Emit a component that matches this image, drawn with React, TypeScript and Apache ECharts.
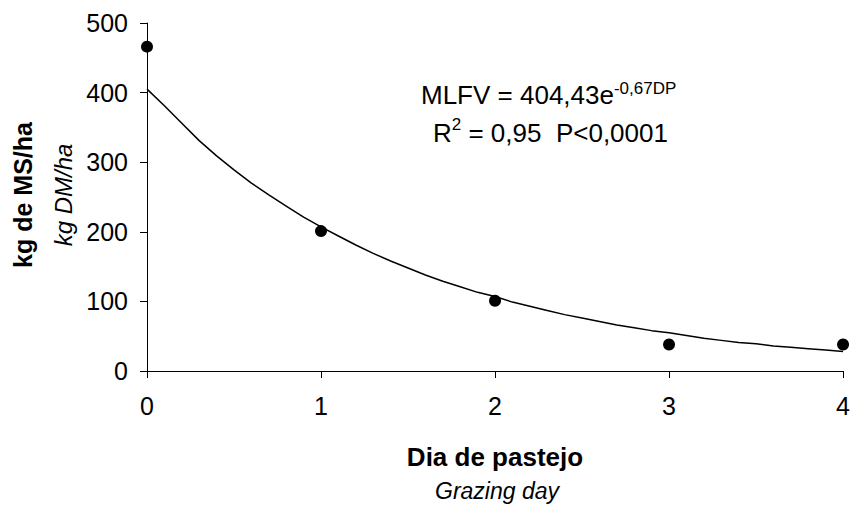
import React, { useEffect, useRef } from "react";
import * as echarts from "echarts";

const xTicks = [0, 1, 2, 3, 4];
const yTicks = [0, 100, 200, 300, 400, 500];
const pointDays = [0, 1, 2, 3, 4];
const pointValues = [466, 201, 101, 38, 38];
const curveDays = [
  0, 0.1, 0.2, 0.3, 0.4, 0.5, 0.6, 0.7, 0.8, 0.9, 1.0, 1.1, 1.2, 1.3, 1.4, 1.5, 1.6, 1.7, 1.8, 1.9, 2.0,
  2.1, 2.2, 2.3, 2.4, 2.5, 2.6, 2.7, 2.8, 2.9, 3.0, 3.1, 3.2, 3.3, 3.4, 3.5, 3.6, 3.7, 3.8, 3.9, 4.0,
];
const curveValues = [
  405, 381, 356, 331, 309, 289, 270, 253, 237, 221, 207, 194, 181, 169, 158, 148, 138, 129, 121, 113, 107,
  99, 93, 87, 81, 76, 71, 66, 62, 58, 55, 51, 47, 44, 41, 39, 36, 34, 32, 30, 28,
];
const yTitle = "kg de MS/ha";
const yTitleEn = "kg DM/ha";
const xTitle = "Dia de pastejo";
const xTitleEn = "Grazing day";
const eqMain = "MLFV = 404,43e";
const eqSup = "-0,67DP";
const r2Main = "R";
const r2Sup = "2";
const r2Rest = " = 0,95  P<0,0001";

const FONT = "'Liberation Sans', Arial, sans-serif";

function measure(t: string, size: number, weight = "normal") {
  const c = document.createElement("canvas").getContext("2d")!;
  c.font = `${weight} ${size}px ${FONT}`;
  return c.measureText(t).width;
}

function txt(x: number, y: number, text: string, size: number, extra: any = {}) {
  return {
    type: "text",
    x,
    y,
    rotation: extra.rotation || 0,
    style: {
      text,
      fill: "#000",
      fontFamily: FONT,
      fontSize: size,
      fontWeight: extra.fontWeight || "normal",
      fontStyle: extra.fontStyle || "normal",
      textAlign: extra.align || "left",
      align: extra.align || "left",
      textVerticalAlign: "middle",
      verticalAlign: "middle",
    },
  };
}

export default function App() {
  const ref = useRef<HTMLDivElement>(null);
  useEffect(() => {
    document.body.style.margin = "0";
    const chart = echarts.init(ref.current!, undefined, { renderer: "svg" });
    const eqX = 421;
    const eqW = measure(eqMain, 26);
    const rW = measure(r2Main, 26);
    const r2X = 433;
    const r2SupW = measure(r2Sup, 17);
    chart.setOption({
      animation: false,
      backgroundColor: "#fff",
      textStyle: { fontFamily: FONT },
      grid: { left: 147, right: 9, top: 23, bottom: 136, containLabel: false },
      xAxis: {
        type: "value",
        min: xTicks[0],
        max: xTicks[xTicks.length - 1],
        interval: 1,
        splitLine: { show: false },
        axisLine: { lineStyle: { color: "#000", width: 1 } },
        axisTick: { show: true, length: 7, lineStyle: { color: "#000" } },
        axisLabel: { color: "#000", fontSize: 25, margin: 22, fontFamily: FONT },
      },
      yAxis: {
        type: "value",
        min: yTicks[0],
        max: yTicks[yTicks.length - 1],
        interval: 100,
        splitLine: { show: false },
        axisLine: { show: true, lineStyle: { color: "#000", width: 1 } },
        axisTick: { show: true, length: 7, lineStyle: { color: "#000" } },
        axisLabel: { color: "#000", fontSize: 25, margin: 19, fontFamily: FONT },
      },
      series: [
        {
          type: "line",
          data: curveDays.map((d, i) => [d, curveValues[i]]),
          showSymbol: false,
          smooth: false,
          lineStyle: { color: "#000", width: 1.5 },
          z: 2,
        },
        {
          type: "scatter",
          data: pointDays.map((d, i) => [d, pointValues[i]]),
          symbol: "circle",
          symbolSize: 12,
          itemStyle: { color: "#000", opacity: 1 },
          z: 3,
        },
      ],
      graphic: [
        txt(23, 195, yTitle, 25, { rotation: Math.PI / 2, align: "center", fontWeight: "bold" }),
        txt(63, 195, yTitleEn, 24, { rotation: Math.PI / 2, align: "center", fontStyle: "italic" }),
        txt(495, 457, xTitle, 26, { align: "center", fontWeight: "bold" }),
        txt(497, 491, xTitleEn, 23, { align: "center", fontStyle: "italic" }),
        txt(eqX, 95, eqMain, 26),
        txt(eqX + eqW, 88, eqSup, 17),
        txt(r2X, 133, r2Main, 26),
        txt(r2X + rW, 124, r2Sup, 17),
        txt(r2X + rW + r2SupW, 133, r2Rest, 26),
      ],
    });
    return () => chart.dispose();
  }, []);
  return <div ref={ref} style={{ width: 853, height: 507 }} />;
}
